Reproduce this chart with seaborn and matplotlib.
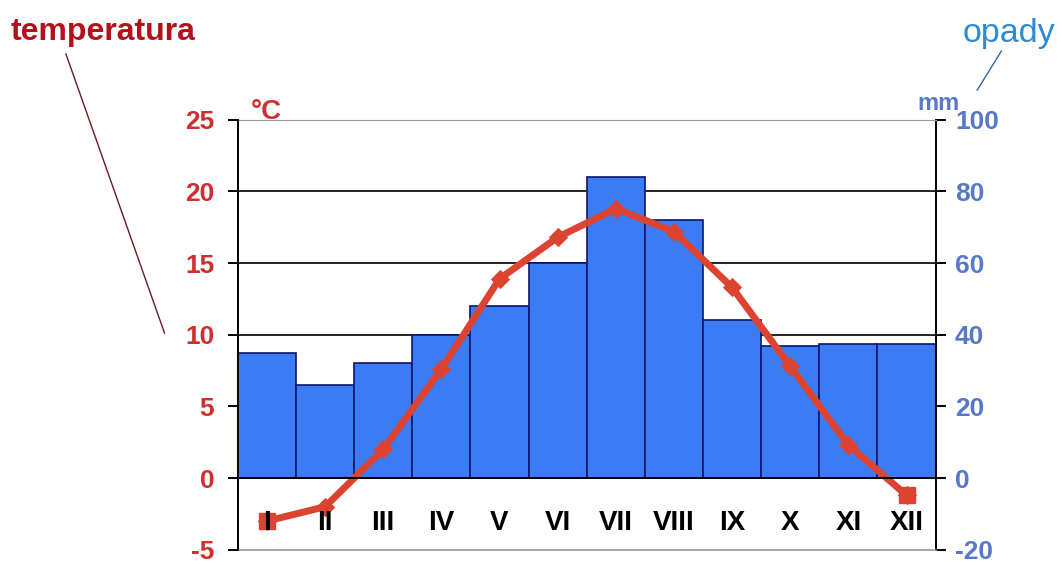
import pandas as pd
import matplotlib.pyplot as plt
import seaborn as sns
from matplotlib.lines import Line2D

# climate diagram data
months = ['I', 'II', 'III', 'IV', 'V', 'VI', 'VII', 'VIII', 'IX', 'X', 'XI', 'XII']
temperature = [-3.0, -2.0, 2.0, 7.6, 13.9, 16.8, 18.8, 17.2, 13.3, 7.8, 2.3, -1.2]
precipitation = [35, 26, 32, 40, 48, 60, 84, 72, 44, 37, 37.5, 37.5]
temp_ticks = [-5, 0, 5, 10, 15, 20, 25]
prec_ticks = [-20, 0, 20, 40, 60, 80, 100]

RED = '#d12f2f'
DARKRED = '#b3121c'
LINE_RED = '#dc4431'
BAR_BLUE = '#3b7bf4'
EDGE = '#0b1670'
TICK_BLUE = '#5878c8'

sns.set_style('white')
plt.rcParams['font.family'] = ['Liberation Sans', 'DejaVu Sans']
plt.rcParams['font.weight'] = 'bold'
plt.rcParams['axes.unicode_minus'] = False

df = pd.DataFrame({'month': months, 'temp': temperature, 'prec': precipitation})

fig = plt.figure(figsize=(10.62, 5.65), dpi=100)
ax = fig.add_axes([0.224, 0.027, 0.657, 0.761])
ax2 = ax.twinx()

# precipitation bars (right axis)
sns.barplot(data=df, x='month', y='prec', ax=ax2, color=BAR_BLUE, width=1.0,
            edgecolor=EDGE, linewidth=1.2, saturation=1)
ax2.set_ylim(-20, 100)
ax2.set_yticks(prec_ticks)
ax2.set_axisbelow(True)
ax2.yaxis.grid(True, color='black', linewidth=1.2)
ax2.get_ygridlines()[0].set_visible(False)
ax2.get_ygridlines()[-1].set_visible(False)
ax2.tick_params(axis='y', direction='out', length=7, width=1.4, color='black',
                labelsize=19, labelcolor=TICK_BLUE, pad=7)
ax2.set_ylabel('')
ax2.set_xlabel('')
ax2.spines['left'].set_visible(False)
ax2.spines['right'].set_color('black')
ax2.spines['right'].set_linewidth(1.4)
ax2.spines['top'].set_color('#999999')
ax2.spines['bottom'].set_color('#999999')
ax2.spines['bottom'].set_linewidth(1.2)

# temperature line (left axis), drawn above the bars
ax.set_zorder(ax2.get_zorder() + 1)
ax.patch.set_visible(False)
sns.pointplot(data=df, x='month', y='temp', ax=ax, color=LINE_RED, markers='D',
              errorbar=None, linewidth=5, markersize=6)
# square markers at year ends
ends = [0, len(months) - 1]
ax.plot(ends, [temperature[i] for i in ends], 's', color=LINE_RED, markersize=11)
ax.set_axisbelow(False)
ax.set_ylim(-5, 25)
ax.set_yticks(temp_ticks)
ax.set_xlim(-0.5, len(months) - 0.5)
ax.tick_params(axis='y', direction='out', length=7, width=1.4, color='black',
               labelsize=19, labelcolor=RED, pad=10)
ax.spines['bottom'].set_position(('data', 0))
ax.spines['bottom'].set_linewidth(1.4)
ax.spines['bottom'].set_color('black')
ax.spines['left'].set_color('black')
ax.spines['left'].set_linewidth(1.4)
ax.spines['top'].set_visible(False)
ax.spines['right'].set_visible(False)
ax.set_xticks(range(len(months)))
ax.set_xticklabels(months)
ax.set_xticks([i + 0.5 for i in range(len(months) - 1)], minor=True)
ax.tick_params(axis='x', which='major', length=0, pad=23, labelsize=20, labelcolor='black')
ax.tick_params(axis='x', which='minor', direction='out', length=7, width=1.4, color='black')
ax.set_xlabel('')
ax.set_ylabel('')

# axis captions
fig.text(0.236, 0.790, '°C', color=RED, fontsize=20, fontweight='bold')
fig.text(0.864, 0.805, 'mm', color=TICK_BLUE, fontsize=17, fontweight='bold')
fig.text(0.010, 0.930, 'temperatura', color=DARKRED, fontsize=23, fontweight='bold')
fig.text(0.906, 0.925, 'opady', color='#2f8ad2', fontsize=24.5, fontweight='normal')
fig.add_artist(Line2D([0.062, 0.155], [0.905, 0.41], color='#6b1d1d', linewidth=1))
fig.add_artist(Line2D([0.943, 0.920], [0.91, 0.84], color='#2f6aa2', linewidth=1))

fig.savefig('out.png', dpi=100)
